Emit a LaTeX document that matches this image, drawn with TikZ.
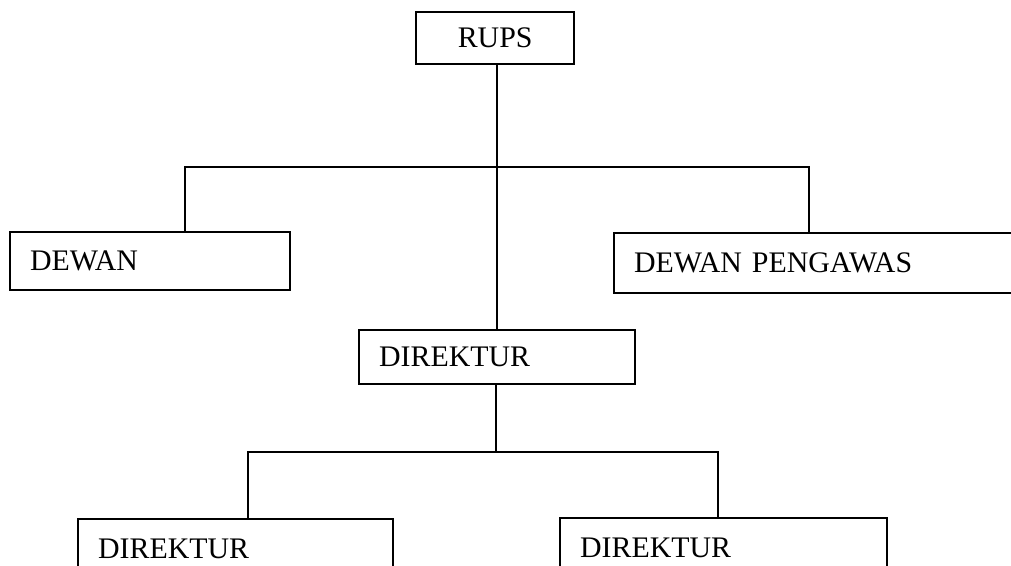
\documentclass[tikz,border=0pt]{standalone}
\usepackage{fontspec}
\setmainfont{Liberation Serif}
\begin{document}
\begin{tikzpicture}[x=0.75pt,y=-0.75pt,
  orgbox/.style={draw=black, line width=1.7pt, rectangle, anchor=north west, inner xsep=0pt, inner ysep=0pt,
    font=\fontsize{22.4}{27}\selectfont},
  conn/.style={draw=black, line width=1.7pt}]
\useasboundingbox (0,0) rectangle (1011,566);
\clip (0,0) rectangle (1011,566);
\fill[white] (0,0) rectangle (1011,566);
% nodes
\node[orgbox, minimum width=158*0.75pt, minimum height=52*0.75pt] (rups) at (415,11) {RUPS};
\node[orgbox, minimum width=280*0.75pt, minimum height=58*0.75pt, inner xsep=15pt, text width=(280-40)*0.75pt, align=left] (dewan) at (9,231) {DEWAN};
\node[orgbox, minimum width=460*0.75pt, minimum height=60*0.75pt, inner xsep=15pt, text width=(460-40)*0.75pt, align=left] (pengawas) at (613,232) {DEWAN PENGAWAS};
\node[orgbox, minimum width=276*0.75pt, minimum height=54*0.75pt, inner xsep=15pt, text width=(276-40)*0.75pt, align=left] (direktur) at (358,329) {DIREKTUR};
\node[orgbox, minimum width=315*0.75pt, minimum height=60*0.75pt, inner xsep=15pt, text width=(315-40)*0.75pt, align=left] (dira) at (77,518) {DIREKTUR};
\node[orgbox, minimum width=327*0.75pt, minimum height=60*0.75pt, inner xsep=15pt, text width=(327-40)*0.75pt, align=left] (dirb) at (559,517) {DIREKTUR};
% junctions
\coordinate (jm) at (497,167);
\coordinate (jl) at (185,167);
\coordinate (jr) at (809,167);
\coordinate (km) at (496,452);
\coordinate (kl) at (248,452);
\coordinate (kr) at (718,452);
% connectors
\draw[conn] (rups.south -| jm) -- (direktur.north -| jm);
\draw[conn] (dewan.north -| jl) -- (jl) -- (jr) -- (pengawas.north -| jr);
\draw[conn] (direktur.south -| km) -- (km);
\draw[conn] (dira.north -| kl) -- (kl) -- (kr) -- (dirb.north -| kr);
\end{tikzpicture}
\end{document}
